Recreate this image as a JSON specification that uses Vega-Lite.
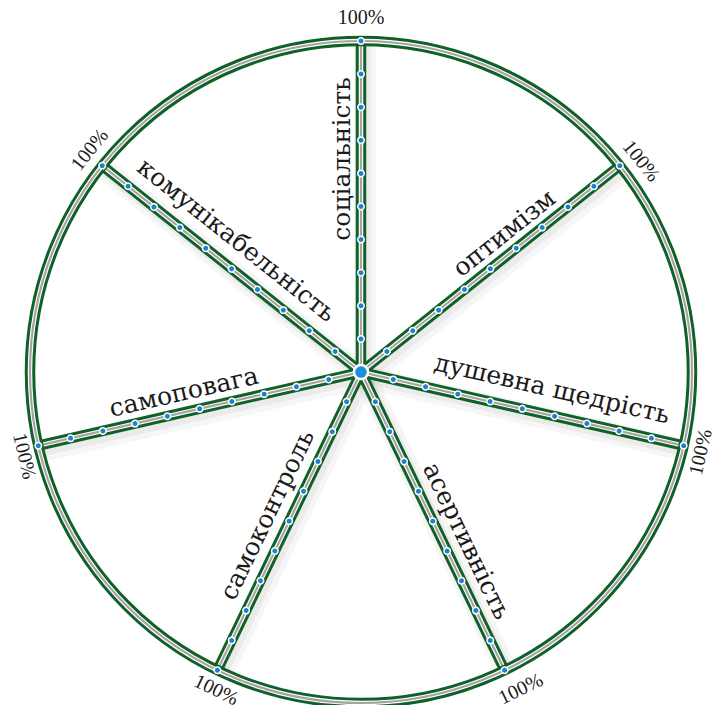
{
  "$schema": "https://vega.github.io/schema/vega-lite/v6.json",
  "width": 715,
  "height": 705,
  "autosize": "none",
  "padding": 0,
  "background": "white",
  "config": {"view": {"stroke": null}},
  "resolve": {"scale": {"angle": "independent"}},
  "datasets": {
    "hub": [{"x": 0, "y": 0}],
    "dots": [
      {"trait": "соціальність", "pct": 10, "x": 0, "y": 10},
      {"trait": "соціальність", "pct": 20, "x": 0, "y": 20},
      {"trait": "соціальність", "pct": 30, "x": 0, "y": 30},
      {"trait": "соціальність", "pct": 40, "x": 0, "y": 40},
      {"trait": "соціальність", "pct": 50, "x": 0, "y": 50},
      {"trait": "соціальність", "pct": 60, "x": 0, "y": 60},
      {"trait": "соціальність", "pct": 70, "x": 0, "y": 70},
      {"trait": "соціальність", "pct": 80, "x": 0, "y": 80},
      {"trait": "соціальність", "pct": 90, "x": 0, "y": 90},
      {"trait": "соціальність", "pct": 100, "x": 0, "y": 100},
      {"trait": "оптимізм", "pct": 10, "x": 7.82, "y": 6.23},
      {"trait": "оптимізм", "pct": 20, "x": 15.64, "y": 12.47},
      {"trait": "оптимізм", "pct": 30, "x": 23.45, "y": 18.7},
      {"trait": "оптимізм", "pct": 40, "x": 31.27, "y": 24.94},
      {"trait": "оптимізм", "pct": 50, "x": 39.09, "y": 31.17},
      {"trait": "оптимізм", "pct": 60, "x": 46.91, "y": 37.41},
      {"trait": "оптимізм", "pct": 70, "x": 54.73, "y": 43.64},
      {"trait": "оптимізм", "pct": 80, "x": 62.55, "y": 49.88},
      {"trait": "оптимізм", "pct": 90, "x": 70.36, "y": 56.11},
      {"trait": "оптимізм", "pct": 100, "x": 78.18, "y": 62.35},
      {"trait": "душевна щедрість", "pct": 10, "x": 9.75, "y": -2.23},
      {"trait": "душевна щедрість", "pct": 20, "x": 19.5, "y": -4.45},
      {"trait": "душевна щедрість", "pct": 30, "x": 29.25, "y": -6.68},
      {"trait": "душевна щедрість", "pct": 40, "x": 39.0, "y": -8.9},
      {"trait": "душевна щедрість", "pct": 50, "x": 48.75, "y": -11.13},
      {"trait": "душевна щедрість", "pct": 60, "x": 58.5, "y": -13.35},
      {"trait": "душевна щедрість", "pct": 70, "x": 68.25, "y": -15.58},
      {"trait": "душевна щедрість", "pct": 80, "x": 77.99, "y": -17.8},
      {"trait": "душевна щедрість", "pct": 90, "x": 87.74, "y": -20.03},
      {"trait": "душевна щедрість", "pct": 100, "x": 97.49, "y": -22.25},
      {"trait": "асертивність", "pct": 10, "x": 4.34, "y": -9.01},
      {"trait": "асертивність", "pct": 20, "x": 8.68, "y": -18.02},
      {"trait": "асертивність", "pct": 30, "x": 13.02, "y": -27.03},
      {"trait": "асертивність", "pct": 40, "x": 17.36, "y": -36.04},
      {"trait": "асертивність", "pct": 50, "x": 21.69, "y": -45.05},
      {"trait": "асертивність", "pct": 60, "x": 26.03, "y": -54.06},
      {"trait": "асертивність", "pct": 70, "x": 30.37, "y": -63.07},
      {"trait": "асертивність", "pct": 80, "x": 34.71, "y": -72.08},
      {"trait": "асертивність", "pct": 90, "x": 39.05, "y": -81.09},
      {"trait": "асертивність", "pct": 100, "x": 43.39, "y": -90.1},
      {"trait": "самоконтроль", "pct": 10, "x": -4.34, "y": -9.01},
      {"trait": "самоконтроль", "pct": 20, "x": -8.68, "y": -18.02},
      {"trait": "самоконтроль", "pct": 30, "x": -13.02, "y": -27.03},
      {"trait": "самоконтроль", "pct": 40, "x": -17.36, "y": -36.04},
      {"trait": "самоконтроль", "pct": 50, "x": -21.69, "y": -45.05},
      {"trait": "самоконтроль", "pct": 60, "x": -26.03, "y": -54.06},
      {"trait": "самоконтроль", "pct": 70, "x": -30.37, "y": -63.07},
      {"trait": "самоконтроль", "pct": 80, "x": -34.71, "y": -72.08},
      {"trait": "самоконтроль", "pct": 90, "x": -39.05, "y": -81.09},
      {"trait": "самоконтроль", "pct": 100, "x": -43.39, "y": -90.1},
      {"trait": "самоповага", "pct": 10, "x": -9.75, "y": -2.23},
      {"trait": "самоповага", "pct": 20, "x": -19.5, "y": -4.45},
      {"trait": "самоповага", "pct": 30, "x": -29.25, "y": -6.68},
      {"trait": "самоповага", "pct": 40, "x": -39.0, "y": -8.9},
      {"trait": "самоповага", "pct": 50, "x": -48.75, "y": -11.13},
      {"trait": "самоповага", "pct": 60, "x": -58.5, "y": -13.35},
      {"trait": "самоповага", "pct": 70, "x": -68.25, "y": -15.58},
      {"trait": "самоповага", "pct": 80, "x": -77.99, "y": -17.8},
      {"trait": "самоповага", "pct": 90, "x": -87.74, "y": -20.03},
      {"trait": "самоповага", "pct": 100, "x": -97.49, "y": -22.25},
      {"trait": "комунікабельність", "pct": 10, "x": -7.82, "y": 6.23},
      {"trait": "комунікабельність", "pct": 20, "x": -15.64, "y": 12.47},
      {"trait": "комунікабельність", "pct": 30, "x": -23.45, "y": 18.7},
      {"trait": "комунікабельність", "pct": 40, "x": -31.27, "y": 24.94},
      {"trait": "комунікабельність", "pct": 50, "x": -39.09, "y": 31.17},
      {"trait": "комунікабельність", "pct": 60, "x": -46.91, "y": 37.41},
      {"trait": "комунікабельність", "pct": 70, "x": -54.73, "y": 43.64},
      {"trait": "комунікабельність", "pct": 80, "x": -62.55, "y": 49.88},
      {"trait": "комунікабельність", "pct": 90, "x": -70.36, "y": 56.11},
      {"trait": "комунікабельність", "pct": 100, "x": -78.18, "y": 62.35}
    ],
    "labels": [
      {"trait": "соціальність", "x": -5.6, "y": 64.4},
      {"trait": "оптимізм", "x": 43.3, "y": 41.9},
      {"trait": "душевна щедрість", "x": 57.7, "y": -5.1},
      {"trait": "асертивність", "x": 31.9, "y": -51.1},
      {"trait": "самоконтроль", "x": -28.3, "y": -43.2},
      {"trait": "самоповага", "x": -53.5, "y": -6.1},
      {"trait": "комунікабельність", "x": -37.6, "y": 39.8}
    ],
    "ends": [
      {"trait": "соціальність", "text": "100%", "x": 0, "y": 106.9},
      {"trait": "оптимізм", "text": "100%", "x": 84.6, "y": 63.7},
      {"trait": "душевна щедрість", "text": "100%", "x": 102.7, "y": -24.2},
      {"trait": "асертивність", "text": "100%", "x": 48.3, "y": -95.8},
      {"trait": "самоконтроль", "text": "100%", "x": -43.8, "y": -96.1},
      {"trait": "самоповага", "text": "100%", "x": -101.8, "y": -25.4},
      {"trait": "комунікабельність", "text": "100%", "x": -81.9, "y": 67.1}
    ]
  },
  "encoding": {
    "x": {"field": "x", "type": "quantitative", "axis": null, "scale": {"domain": [-109.06, 106.95], "nice": false, "zero": false}},
    "y": {"field": "y", "type": "quantitative", "axis": null, "scale": {"domain": [-100.6, 112.39], "nice": false, "zero": false}}
  },
  "layer": [
    {
      "data": {"name": "dots"},
      "transform": [{"filter": "datum.pct == 100"}],
      "mark": {"type": "rule", "color": "#000000", "opacity": 0.035, "strokeWidth": 22, "xOffset": 4, "yOffset": 5, "x2Offset": 4, "y2Offset": 5},
      "encoding": {"x2": {"datum": 0}, "y2": {"datum": 0}}
    },
    {
      "data": {"name": "dots"},
      "transform": [{"filter": "datum.pct == 100"}],
      "mark": {"type": "rule", "color": "#000000", "opacity": 0.045, "strokeWidth": 14, "xOffset": 3, "yOffset": 4, "x2Offset": 3, "y2Offset": 4},
      "encoding": {"x2": {"datum": 0}, "y2": {"datum": 0}}
    },
    {
      "data": {"name": "dots"},
      "transform": [{"filter": "datum.pct == 100"}],
      "mark": {"type": "rule", "color": "#0f6128", "strokeWidth": 10.5, "strokeCap": "butt"},
      "encoding": {"x2": {"datum": 0}, "y2": {"datum": 0}}
    },
    {
      "data": {"name": "dots"},
      "transform": [{"filter": "datum.pct == 100"}],
      "mark": {"type": "rule", "color": "#ffffff", "strokeWidth": 4.5, "strokeCap": "butt"},
      "encoding": {"x2": {"datum": 0}, "y2": {"datum": 0}}
    },
    {
      "data": {"name": "dots"},
      "transform": [{"filter": "datum.pct == 100"}],
      "mark": {"type": "rule", "color": "#a9a2a2", "strokeWidth": 2.2, "strokeCap": "butt"},
      "encoding": {"x2": {"datum": 0}, "y2": {"datum": 0}}
    },
    {
      "data": {"name": "hub"},
      "mark": {"type": "point", "shape": "circle", "filled": false, "size": 438244, "color": "#0f6128", "strokeWidth": 10.5, "opacity": 1}
    },
    {
      "data": {"name": "hub"},
      "mark": {"type": "point", "shape": "circle", "filled": false, "size": 438244, "color": "#ffffff", "strokeWidth": 4.5, "opacity": 1}
    },
    {
      "data": {"name": "hub"},
      "mark": {"type": "point", "shape": "circle", "filled": false, "size": 438244, "color": "#a9a2a2", "strokeWidth": 2.2, "opacity": 1}
    },
    {
      "data": {"name": "dots"},
      "mark": {"type": "point", "shape": "circle", "filled": true, "size": 42, "fill": "#1c82cf", "stroke": "#ffffff", "strokeWidth": 1.5, "opacity": 1}
    },
    {
      "data": {"name": "hub"},
      "mark": {"type": "point", "shape": "circle", "filled": true, "size": 200, "fill": "#1c8fdc", "stroke": "#ffffff", "strokeWidth": 2.5, "opacity": 1}
    },
    {
      "data": {"name": "labels"},
      "mark": {"type": "text", "font": "DejaVu Serif", "fontSize": 25, "color": "#1a1a1a", "align": "center", "baseline": "middle"},
      "encoding": {
        "text": {"field": "trait"},
        "angle": {"field": "trait", "type": "nominal", "legend": null, "scale": {"type": "ordinal",
          "domain": ["соціальність", "оптимізм", "душевна щедрість", "асертивність", "самоконтроль", "самоповага", "комунікабельність"],
          "range": [270, 321.43, 12.86, 64.29, 295.71, 347.14, 38.57]}}
      }
    },
    {
      "data": {"name": "ends"},
      "mark": {"type": "text", "font": "Liberation Serif", "fontSize": 20, "color": "#1a1a1a", "align": "center", "baseline": "middle"},
      "encoding": {
        "text": {"field": "text"},
        "angle": {"field": "trait", "type": "nominal", "legend": null, "scale": {"type": "ordinal",
          "domain": ["соціальність", "оптимізм", "душевна щедрість", "асертивність", "самоконтроль", "самоповага", "комунікабельність"],
          "range": [0, 51.43, 282.86, 334.29, 25.71, 77.14, 308.57]}}
      }
    }
  ]
}
